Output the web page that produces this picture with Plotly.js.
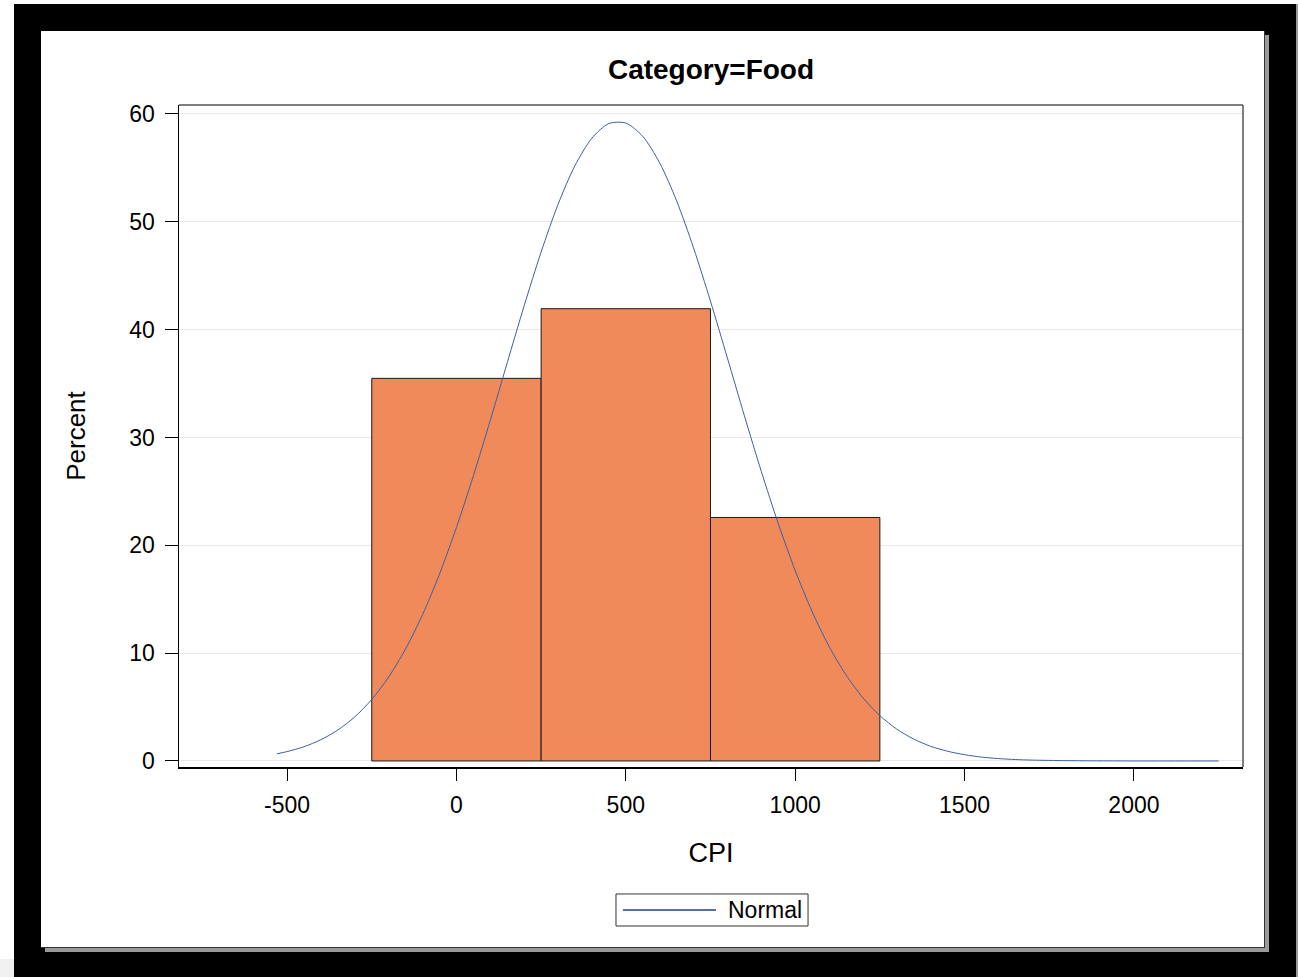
<!DOCTYPE html>
<html>
<head>
<meta charset="utf-8">
<script src="https://cdn.plot.ly/plotly-3.0.1.min.js"></script>
<style>
  html, body { margin: 0; padding: 0; width: 1298px; height: 977px; background: #ffffff; overflow: hidden; position: relative; }
  #grayCorner { position: absolute; left: 0; top: 959px; width: 14px; height: 18px; background: #f0f0f0; }
  #frame { position: absolute; left: 14px; top: 4px; width: 1282px; height: 973px; background: #000000; border-right: 2px solid #9a9a9a; }
  #sheet { position: absolute; left: 41px; top: 31px; width: 1223px; height: 916px; background: #ffffff;
           border-right: 1px solid #333333; border-bottom: 1px solid #333333; box-shadow: 4px 4px 0 #9a9a9a; }
  #chart { position: absolute; left: 41px; top: 31px; width: 1224px; height: 917px; }
</style>
</head>
<body>
<div id="grayCorner"></div>
<div id="frame"></div>
<div id="sheet"></div>
<div id="chart"></div>
<script>
// Histogram bins (CPI) and percents
const binCenters = [0, 500, 1000];
const binWidth = [500, 500, 500];
const binPercent = [35.48, 41.94, 22.58];

// Fitted normal curve (CPI, percent)
const curveX = [-530, -500, -450, -400, -350, -300, -250, -200, -150, -100, -50, 0, 50, 100, 150, 200, 250, 300, 350, 400, 450, 500, 550, 600, 650, 700, 750, 800, 850, 900, 950, 1000, 1050, 1100, 1150, 1200, 1250, 1300, 1350, 1400, 1450, 1500, 1550, 1600, 1650, 1700, 1800, 1900, 2000, 2100, 2250];
const curveY = [0.66, 0.87, 1.32, 1.97, 2.87, 4.09, 5.71, 7.79, 10.40, 13.57, 17.33, 21.65, 26.45, 31.60, 36.93, 42.22, 47.20, 51.62, 55.21, 57.76, 59.11, 59.16, 57.92, 55.46, 51.94, 47.58, 42.63, 37.36, 32.02, 26.85, 22.02, 17.66, 13.85, 10.63, 7.98, 5.86, 4.20, 2.95, 2.03, 1.36, 0.90, 0.58, 0.36, 0.22, 0.13, 0.08, 0.03, 0.01, 0.0, 0.0, 0.0];

const xTicks = [-500, 0, 500, 1000, 1500, 2000];
const yTicks = [0, 10, 20, 30, 40, 50, 60];

const titleText = 'Category=Food';
const xTitle = 'CPI';
const yTitle = 'Percent';
const legendLabel = 'Normal';

const FONT = 'Liberation Sans, Arial, sans-serif';

const traces = [
  {
    type: 'bar',
    x: binCenters,
    y: binPercent,
    width: binWidth,
    marker: { color: '#f08a5b', line: { color: '#1a1a1a', width: 1 } },
    showlegend: false,
    hoverinfo: 'x+y'
  },
  {
    type: 'scatter',
    mode: 'lines',
    x: curveX,
    y: curveY,
    line: { color: '#3f5fa0', width: 1, shape: 'spline', smoothing: 0.8 },
    name: legendLabel,
    showlegend: false
  }
];

const layout = {
  width: 1224,
  height: 917,
  paper_bgcolor: 'rgba(0,0,0,0)',
  plot_bgcolor: '#ffffff',
  margin: { l: 138, r: 22, t: 74, b: 181, pad: 0 },
  showlegend: false,
  bargap: 0,
  font: { family: FONT, color: '#000000', size: 23 },
  title: {
    text: '<b>' + titleText + '</b>',
    font: { family: FONT, size: 28, color: '#000000' },
    x: 0.5, xref: 'paper', xanchor: 'center',
    y: 1, yref: 'container', yanchor: 'top', pad: { t: 28 }
  },
  xaxis: {
    range: [-819, 2322],
    tickvals: xTicks,
    ticktext: xTicks.map(String),
    ticks: 'outside', ticklen: 12, tickwidth: 1, tickcolor: '#000000',
    ticklabelstandoff: 5,
    showline: true, linecolor: '#000000', linewidth: 1.5, mirror: false,
    showgrid: false, zeroline: false,
    tickfont: { family: FONT, size: 23, color: '#000000' },
    title: { text: xTitle, font: { family: FONT, size: 27, color: '#000000' }, standoff: 26 },
    automargin: false
  },
  yaxis: {
    range: [-0.56, 60.83],
    tickvals: yTicks,
    ticktext: yTicks.map(String),
    ticks: 'outside', ticklen: 13, tickwidth: 1, tickcolor: '#000000',
    ticklabelstandoff: 5,
    showline: true, linecolor: '#000000', linewidth: 1.5, mirror: false,
    showgrid: true, gridcolor: '#e8e8e8', gridwidth: 1, zeroline: false,
    tickfont: { family: FONT, size: 23, color: '#000000' },
    title: { text: yTitle, font: { family: FONT, size: 26, color: '#000000' }, standoff: 36 },
    automargin: false
  },
  shapes: [
    { type: 'line', xref: 'paper', yref: 'paper', x0: 0, x1: 1, y0: 1, y1: 1, line: { color: '#555555', width: 1.5 } },
    { type: 'line', xref: 'paper', yref: 'paper', x0: 1, x1: 1, y0: 0, y1: 1, line: { color: '#555555', width: 1.5 } },
    { type: 'rect', xref: 'paper', yref: 'paper', x0: 0.4107, x1: 0.5912, y0: -0.2402, y1: -0.1918,
      line: { color: '#333333', width: 1 }, fillcolor: '#ffffff' },
    { type: 'line', xref: 'paper', yref: 'paper', x0: 0.4173, x1: 0.5047, y0: -0.216, y1: -0.216,
      line: { color: '#1f3f85', width: 1.5 } }
  ],
  annotations: [
    { xref: 'paper', yref: 'paper', x: 0.5140, y: -0.216, xanchor: 'left', yanchor: 'middle',
      text: legendLabel, showarrow: false, font: { family: FONT, size: 23, color: '#000000' } }
  ]
};

Plotly.newPlot('chart', traces, layout, { displayModeBar: false, staticPlot: true });
</script>
</body>
</html>
